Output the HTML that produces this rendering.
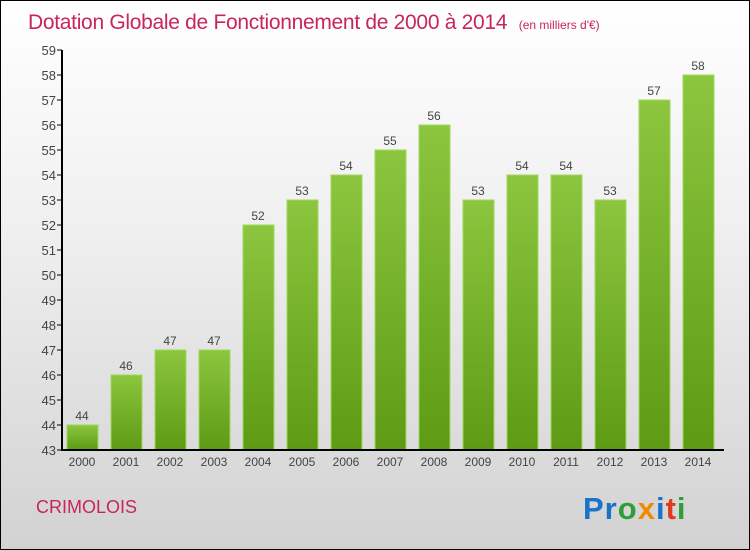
<!DOCTYPE html>
<html><head><meta charset="utf-8"><style>
body{margin:0}
#wrap{position:relative;width:748px;height:548px;border:1px solid #000;background:linear-gradient(#ffffff 0%,#f0f0f0 40%,#d2d2d2 100%);font-family:"Liberation Sans",sans-serif;overflow:hidden}
</style></head><body>
<div id="wrap">
<svg width="748" height="548" id="svg">
<defs><linearGradient id="bg" x1="0" y1="0" x2="0" y2="1"><stop offset="0" stop-color="#8cc63f"/><stop offset="1" stop-color="#5e9a14"/></linearGradient></defs>
<text x="27" y="28" font-size="21" letter-spacing="-0.3" fill="#c8255c">Dotation Globale de Fonctionnement de 2000 à 2014 <tspan font-size="12" dx="6" letter-spacing="0">(en milliers d'€)</tspan></text>
<text x="35" y="512" font-size="18" fill="#c8255c">CRIMOLOIS</text>
<text x="582" y="518" font-size="31" font-weight="bold" letter-spacing="1"><tspan fill="#1a73c8">Pr</tspan><tspan fill="#2e9e3a">o</tspan><tspan fill="#f08a00">x</tspan><tspan fill="#1a73c8">i</tspan><tspan fill="#e03a1a">t</tspan><tspan fill="#2e9e3a">i</tspan></text>
<g id="g"></g>
</svg>
</div>
<script>
const years=["2000","2001","2002","2003","2004","2005","2006","2007","2008","2009","2010","2011","2012","2013","2014"];
const values=[44,46,47,47,52,53,54,55,56,53,54,54,53,57,58];
const yTicks=[43,44,45,46,47,48,49,50,51,52,53,54,55,56,57,58,59];
const NS="http://www.w3.org/2000/svg";
const g=document.getElementById('g');
const y=v=>449-(v-43)*25;
const x=i=>81+i*44;
function mk(t,a){const e=document.createElementNS(NS,t);for(const k in a)e.setAttribute(k,a[k]);g.appendChild(e);return e;}
yTicks.forEach(v=>{
 const l=mk('line',{x1:56,x2:61,y1:y(v),y2:y(v),stroke:'#000'});
 
 
 const t=mk('text',{x:55,y:y(v)+5,'font-size':13,fill:'#444','text-anchor':'end'});t.textContent=v;
 
 
});
values.forEach((v,i)=>{
 const r=mk('rect',{x:x(i)-15,y:y(v),width:31,height:y(43)-y(v),fill:'url(#bg)',stroke:'#9fd95a','stroke-width':1});
 
 
 const t=mk('text',{x:x(i),y:y(v)-5,'font-size':12,fill:'#444','text-anchor':'middle'});t.textContent=v;
 
 
 const xl=mk('text',{x:x(i),y:465,'font-size':12,fill:'#444','text-anchor':'middle'});xl.textContent=years[i];
 
 
});
const ya=mk('line',{x1:61,x2:61,y1:y(59),y2:y(43),stroke:'#000','stroke-width':2});


const xa=mk('line',{x1:60,x2:723,y1:y(43),y2:y(43),stroke:'#000','stroke-width':2});


</script>
</body></html>
